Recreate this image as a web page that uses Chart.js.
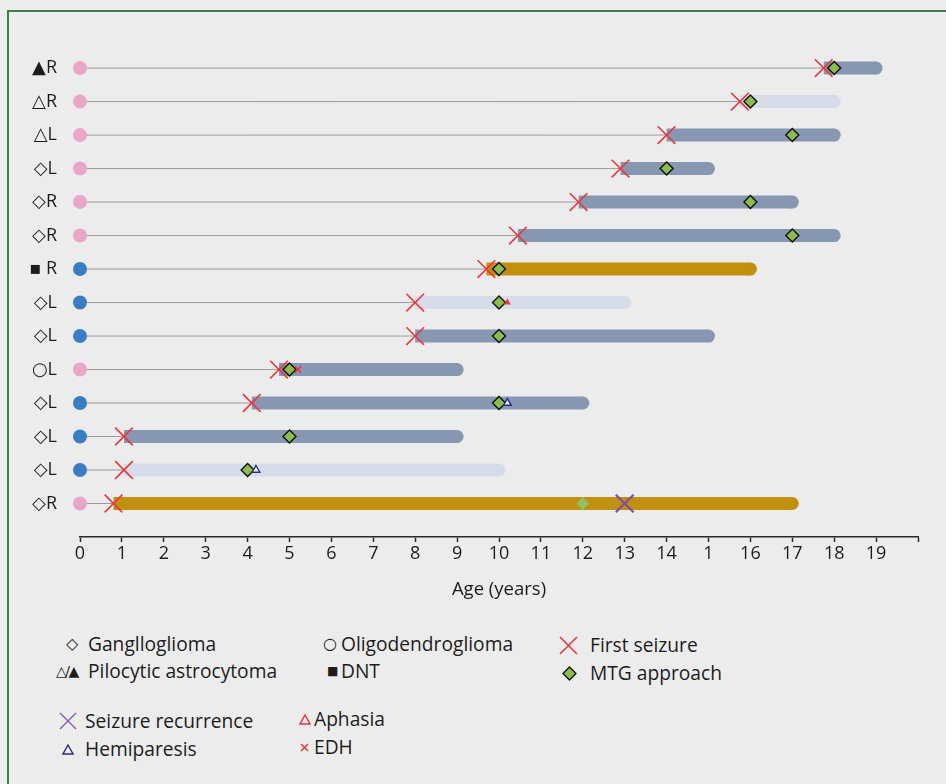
<!DOCTYPE html>
<html lang="en">
<head>
<meta charset="UTF-8">
<title>Seizure timeline by age</title>
<script src="https://cdn.jsdelivr.net/npm/chart.js"></script>
<style>
  html, body { margin: 0; padding: 0; background: #ececec; }
  body { width: 946px; height: 784px; position: relative; overflow: hidden;
         font-family: 'Open Sans', 'DejaVu Sans', sans-serif; color: #1c1c1c; }
  .frame { position: absolute; left: 7px; top: 10px; right: -6px; bottom: -6px;
           border: 2px solid #3d8046; }
  .chart-box { position: absolute; left: 0; top: 0; width: 946px; height: 607px; }
  .sym, .txt { position: absolute; white-space: nowrap; line-height: 24px; height: 24px; }
  .txt { font-size: 19.2px; }
  .sym { font-family: 'DejaVu Sans', sans-serif; display: flex; align-items: center; }
</style>
</head>
<body>
<div class="frame"></div>
<div class="chart-box"><canvas id="timeline"></canvas></div>

<!-- legend -->
<span class="sym" style="left:66px;top:632px;font-size:16px">◇</span>
<span class="txt" style="left:88px;top:632px">Ganglloglioma</span>
<span class="sym" style="left:56px;top:659px;font-size:14px;letter-spacing:-1.5px">△/▲</span>
<span class="txt" style="left:88px;top:659px">Pilocytic astrocytoma</span>
<span class="sym" style="left:323px;top:632px;font-size:16px">○</span>
<span class="txt" style="left:341px;top:632px">Oligodendroglioma</span>
<span class="sym" style="left:327px;top:659px;font-size:12px">■</span>
<span class="txt" style="left:341px;top:659px">DNT</span>
<span class="sym" style="left:559px;top:633px"><svg width="19" height="19"><path d="M1 1L18 18M18 1L1 18" stroke="#e8373e" stroke-width="1.6"/></svg></span>
<span class="txt" style="left:590px;top:633px">First seizure</span>
<span class="sym" style="left:562px;top:661px"><svg width="15" height="15"><path d="M7.5 1L14 7.5L7.5 14L1 7.5Z" fill="#8cbb4e" stroke="#111" stroke-width="1.3"/></svg></span>
<span class="txt" style="left:590px;top:661px">MTG approach</span>
<span class="sym" style="left:59px;top:709px"><svg width="18" height="18"><path d="M1 1L17 17M17 1L1 17" stroke="#8a63b3" stroke-width="1.5"/></svg></span>
<span class="txt" style="left:85px;top:709px">Seizure recurrence</span>
<span class="sym" style="left:62px;top:737px"><svg width="12" height="11"><path d="M6 1L11 10H1Z" fill="none" stroke="#2e2a8e" stroke-width="1.4"/></svg></span>
<span class="txt" style="left:85px;top:737px">Hemiparesis</span>
<span class="sym" style="left:299px;top:707px"><svg width="12" height="11"><path d="M6 1L11 10H1Z" fill="none" stroke="#e8373e" stroke-width="1.5"/></svg></span>
<span class="txt" style="left:314px;top:707px">Aphasia</span>
<span class="sym" style="left:300px;top:735px"><svg width="9" height="9"><path d="M1 1L8 8M8 1L1 8" stroke="#e8373e" stroke-width="1.6"/></svg></span>
<span class="txt" style="left:314px;top:735px">EDH</span>

<script>
// one entry per patient row, top to bottom
const rowLabels = ['▲R', '△R', '△L', '◇L', '◇R', '◇R', '▪ R', '◇L', '◇L', '○L', '◇L', '◇L', '◇L', '◇R'];
const dotGroup = ['pink', 'pink', 'pink', 'pink', 'pink', 'pink', 'blue', 'blue', 'blue', 'pink', 'blue', 'blue', 'blue', 'pink'];
const firstSeizure = [17.75, 15.75, 14.0, 12.9, 11.9, 10.45, 9.7, 8.0, 8.0, 4.75, 4.1, 1.05, 1.05, 0.8];
const followUpEnd = [19, 18, 18, 15, 17, 18, 16, 13, 15, 9, 12, 9, 10, 17];
const barType = ['dark', 'light', 'dark', 'dark', 'dark', 'dark', 'gold', 'light', 'dark', 'dark', 'dark', 'dark', 'light', 'gold'];
const mtgAge = [18, 16, 17, 14, 16, 17, 10, 10, 10, 5, 10, 5, 4, 12];

// extra events (row index, age)
const aphasiaRows = [7];
const aphasiaAges = [10.2];
const edhRows = [9];
const edhAges = [5.2];
const hemiparesisRows = [10, 12];
const hemiparesisAges = [10.2, 4.2];
const recurrenceRows = [13];
const recurrenceAges = [13];

const xTickLabels = ['0', '1', '2', '3', '4', '5', '6', '7', '8', '9', '10', '11', '12', '13', '14', '1', '16', '17', '18', '19'];

const dotColors = { pink: '#e9a6c9', blue: '#3b7cc4' };
const barColors = { dark: '#8797b1', light: '#d6dde8', gold: '#c0900e' };
const red = '#e8373e';

const nRows = rowLabels.length;
const rowY = i => nRows - i;   // top row sits at y = 14

const datasets = [];

rowLabels.forEach((lab, i) => {
    // thin line from birth to first seizure
    datasets.push({
        data: [{ x: 0, y: rowY(i) }, { x: firstSeizure[i], y: rowY(i) }],
        showLine: true, borderColor: '#9c9c9c', borderWidth: 1,
        pointRadius: 0, order: 12
    });
    // thick bar, square start, round end
    const c = barColors[barType[i]];
    datasets.push({
        data: [{ x: firstSeizure[i], y: rowY(i) }, { x: followUpEnd[i], y: rowY(i) }],
        showLine: true, borderColor: c, borderWidth: 13, borderCapStyle: 'butt',
        pointRadius: [0, 6.5], pointBackgroundColor: c, pointBorderWidth: 0, order: 10
    });
});

// dots at age 0
datasets.push({
    data: rowLabels.map((l, i) => ({ x: 0, y: rowY(i) })),
    pointStyle: 'circle', pointRadius: 7, pointBorderWidth: 0, clip: false,
    pointBackgroundColor: dotGroup.map(g => dotColors[g]), order: 5
});

// first seizure
datasets.push({
    data: firstSeizure.map((a, i) => ({ x: a, y: rowY(i) })),
    pointStyle: 'crossRot', pointRadius: 12.5, pointBorderWidth: 1.6,
    pointBorderColor: red, order: 4
});

// MTG approach
datasets.push({
    data: mtgAge.map((a, i) => ({ x: a, y: rowY(i) })),
    pointStyle: 'rectRot', pointRadius: 6.5,
    pointBackgroundColor: mtgAge.map((a, i) => i === 13 ? '#94c063' : '#8cbb4e'),
    pointBorderColor: '#111',
    pointBorderWidth: mtgAge.map((a, i) => i === 13 ? 0 : 1.4), order: 3
});

// seizure recurrence
datasets.push({
    data: recurrenceAges.map((a, k) => ({ x: a, y: rowY(recurrenceRows[k]) })),
    pointStyle: 'crossRot', pointRadius: 12.5, pointBorderWidth: 2.2,
    pointBorderColor: '#7b4ea8', order: 2
});

// aphasia
datasets.push({
    data: aphasiaAges.map((a, k) => ({ x: a, y: rowY(aphasiaRows[k]) })),
    pointStyle: 'triangle', pointRadius: 4, pointBorderWidth: 0,
    pointBackgroundColor: red, order: 2
});

// EDH
datasets.push({
    data: edhAges.map((a, k) => ({ x: a, y: rowY(edhRows[k]) })),
    pointStyle: 'crossRot', pointRadius: 4.5, pointBorderWidth: 1.5,
    pointBorderColor: red, order: 2
});

// hemiparesis
datasets.push({
    data: hemiparesisAges.map((a, k) => ({ x: a, y: rowY(hemiparesisRows[k]) })),
    pointStyle: 'triangle', pointRadius: 4.5, pointBorderWidth: 1.4,
    pointBackgroundColor: '#f2f2f2', pointBorderColor: '#2e2a8e', order: 1
});

const tickFont = { family: "'Open Sans', 'DejaVu Sans', sans-serif", size: 18 };

new Chart(document.getElementById('timeline'), {
    type: 'scatter',
    data: { datasets: datasets },
    options: {
        responsive: true,
        maintainAspectRatio: false,
        animation: false,
        events: [],
        layout: { padding: { top: 34.6, right: 28, bottom: 0, left: 0 } },
        plugins: { legend: { display: false }, tooltip: { enabled: false } },
        scales: {
            x: {
                type: 'linear', min: 0, max: 20,
                afterFit: s => { s.height = 70; },
                border: { display: true, color: '#2a2a2a', width: 1.5 },
                grid: { drawOnChartArea: false, drawTicks: true, tickLength: 5, color: '#2a2a2a', tickWidth: 1.5 },
                ticks: {
                    stepSize: 1, autoSkip: false, maxRotation: 0, padding: 1,
                    color: '#1c1c1c', font: tickFont,
                    callback: v => xTickLabels[v] !== undefined ? xTickLabels[v] : ''
                },
                title: {
                    display: true, text: 'Age (years)', color: '#1c1c1c',
                    font: { family: tickFont.family, size: 18.5 }, padding: { top: 0, bottom: 6 }
                }
            },
            y: {
                type: 'linear', min: 0, max: 15,
                afterFit: s => { s.width = 80; },
                border: { display: false },
                grid: { display: false, drawTicks: false },
                ticks: {
                    stepSize: 1, autoSkip: false, padding: 23,
                    color: '#1c1c1c', font: tickFont,
                    callback: v => (v >= 1 && v <= nRows) ? rowLabels[nRows - v] : ''
                }
            }
        }
    }
});
</script>
</body>
</html>
